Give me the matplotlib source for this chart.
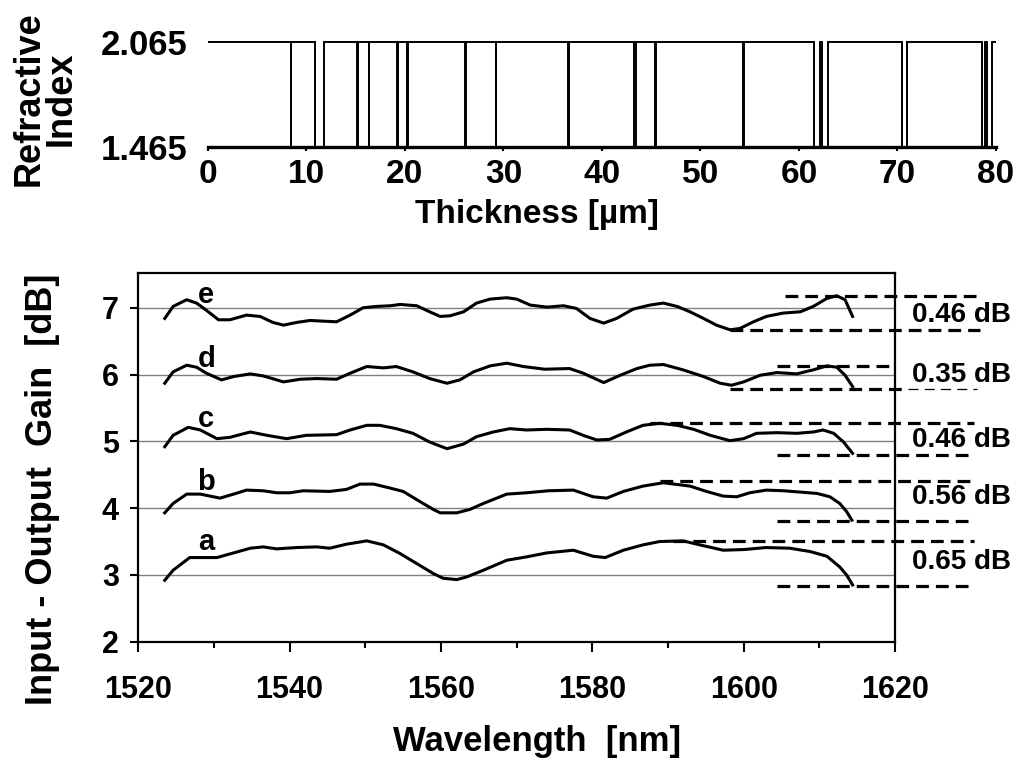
import matplotlib
matplotlib.use("Agg")
import matplotlib.pyplot as plt
from matplotlib.ticker import MultipleLocator

plt.rcParams['font.family'] = ['Liberation Sans', 'DejaVu Sans']
plt.rcParams['font.weight'] = 'bold'

# --- top panel: refractive index profile of the stack
n_high = 2.065
n_low = 1.465
layer_edges = [0, 8.38, 8.45, 10.86, 11.78, 15.08, 15.2, 16.33, 16.38, 19.24, 19.29,
               20.18, 20.3, 26.1, 26.22, 29.22, 29.27, 36.56, 36.61, 43.3, 43.42,
               45.42, 45.48, 54.33, 54.38, 61.55, 62.15, 62.3, 62.94, 70.5, 71.0,
               78.55, 78.9, 79.05, 79.56, 80]
layer_n = [n_high if i % 2 == 0 else n_low for i in range(len(layer_edges) - 1)]

# --- bottom panel: gain spectra (a..e)
wl_a = [1523.5, 1524.6, 1526.8, 1530.4, 1532.6, 1534.8, 1536.5, 1538.3, 1540.9, 1543.6,
        1545.3, 1547.5, 1550.2, 1552.4, 1554.6, 1556.8, 1559.0, 1560.3, 1562.1, 1563.4,
        1565.6, 1568.7, 1571.3, 1574.0, 1577.5, 1580.1, 1581.7, 1584.1, 1586.7, 1588.9,
        1592.0, 1594.2, 1597.3, 1600.0, 1603.0, 1606.1, 1608.8, 1611.0, 1612.7, 1613.6, 1614.4]
gain_a = [2.92, 3.07, 3.26, 3.26, 3.33, 3.40, 3.42, 3.39, 3.41, 3.42,
          3.40, 3.46, 3.51, 3.45, 3.32, 3.17, 3.02, 2.95, 2.93, 2.97,
          3.07, 3.22, 3.27, 3.33, 3.37, 3.28, 3.26, 3.37, 3.45, 3.50,
          3.51, 3.45, 3.37, 3.38, 3.41, 3.40, 3.35, 3.28, 3.12, 3.00, 2.85]

wl_b = [1523.5, 1524.6, 1526.4, 1528.2, 1530.8, 1532.6, 1534.3, 1536.5, 1538.3, 1540.0,
        1541.8, 1545.3, 1547.5, 1549.3, 1551.1, 1553.3, 1555.0, 1557.2, 1559.0, 1559.9,
        1562.1, 1563.8, 1565.6, 1568.7, 1571.3, 1574.2, 1577.5, 1580.1, 1581.9, 1584.1,
        1586.7, 1589.4, 1592.9, 1595.1, 1597.3, 1599.1, 1600.8, 1603.0, 1605.3, 1607.5,
        1609.7, 1611.4, 1612.7, 1613.6, 1614.3]
gain_b = [3.93, 4.07, 4.21, 4.21, 4.15, 4.21, 4.27, 4.26, 4.23, 4.23,
          4.26, 4.25, 4.28, 4.36, 4.36, 4.30, 4.25, 4.10, 3.98, 3.93,
          3.93, 3.98, 4.07, 4.21, 4.23, 4.26, 4.27, 4.17, 4.15, 4.25,
          4.33, 4.38, 4.33, 4.25, 4.18, 4.17, 4.23, 4.27, 4.26, 4.24,
          4.22, 4.17, 4.07, 3.95, 3.82]

wl_c = [1523.5, 1524.6, 1526.6, 1528.2, 1530.4, 1532.1, 1534.8, 1537.0, 1539.6, 1542.2,
        1546.2, 1548.0, 1550.2, 1551.9, 1554.1, 1556.3, 1558.5, 1560.8, 1563.0, 1564.7,
        1566.9, 1569.1, 1571.3, 1574.0, 1577.0, 1578.8, 1580.6, 1582.3, 1584.5, 1586.7,
        1588.9, 1591.2, 1593.4, 1595.6, 1598.2, 1600.0, 1601.7, 1604.4, 1607.0, 1609.2,
        1610.5, 1611.9, 1613.2, 1614.4]
gain_c = [4.92, 5.09, 5.21, 5.17, 5.04, 5.06, 5.14, 5.09, 5.04, 5.09,
          5.10, 5.17, 5.24, 5.24, 5.19, 5.12, 4.99, 4.89, 4.96, 5.07,
          5.14, 5.19, 5.17, 5.18, 5.17, 5.09, 5.02, 5.03, 5.14, 5.24,
          5.27, 5.24, 5.18, 5.09, 5.01, 5.04, 5.12, 5.13, 5.12, 5.14,
          5.17, 5.12, 4.99, 4.82]

wl_d = [1523.5, 1524.6, 1526.4, 1527.7, 1529.0, 1531.0, 1532.6, 1534.8, 1536.5, 1539.2,
        1541.4, 1543.6, 1546.2, 1548.0, 1550.2, 1552.4, 1554.1, 1556.3, 1558.5, 1560.8,
        1562.5, 1564.3, 1566.5, 1568.7, 1570.9, 1573.7, 1577.0, 1578.8, 1581.5, 1583.7,
        1585.9, 1587.6, 1589.4, 1592.0, 1594.7, 1596.9, 1598.4, 1600.0, 1602.2, 1604.4,
        1607.0, 1609.2, 1611.0, 1612.3, 1613.4, 1614.4]
gain_d = [5.87, 6.04, 6.14, 6.11, 6.02, 5.92, 5.97, 6.01, 5.98, 5.89,
          5.93, 5.94, 5.93, 6.02, 6.12, 6.10, 6.12, 6.04, 5.94, 5.87,
          5.92, 6.04, 6.13, 6.17, 6.12, 6.08, 6.09, 6.02, 5.88, 5.99,
          6.09, 6.14, 6.15, 6.07, 5.97, 5.87, 5.84, 5.89, 5.99, 6.03,
          6.01, 6.07, 6.13, 6.11, 5.99, 5.82]

wl_e = [1523.5, 1524.6, 1526.4, 1527.7, 1528.8, 1530.6, 1532.1, 1534.3, 1536.1, 1537.8,
        1539.2, 1540.9, 1542.7, 1544.4, 1546.2, 1548.0, 1549.7, 1551.5, 1553.3, 1554.6,
        1556.8, 1558.5, 1559.9, 1561.2, 1563.0, 1564.7, 1566.5, 1568.7, 1570.0, 1571.8,
        1574.0, 1576.2, 1577.9, 1579.7, 1581.5, 1583.2, 1585.4, 1587.6, 1589.4, 1591.2,
        1592.9, 1594.7, 1596.4, 1598.2, 1599.5, 1601.3, 1603.0, 1605.2, 1607.5, 1609.2,
        1611.0, 1612.3, 1613.4, 1614.4]
gain_e = [6.84, 7.02, 7.12, 7.07, 6.98, 6.82, 6.82, 6.89, 6.87, 6.78,
          6.74, 6.78, 6.81, 6.80, 6.79, 6.89, 7.00, 7.02, 7.03, 7.05,
          7.03, 6.94, 6.87, 6.88, 6.94, 7.07, 7.13, 7.15, 7.13, 7.04,
          7.01, 7.03, 6.99, 6.84, 6.77, 6.84, 6.98, 7.04, 7.07, 7.02,
          6.94, 6.84, 6.74, 6.67, 6.69, 6.79, 6.87, 6.92, 6.94, 7.02,
          7.14, 7.18, 7.12, 6.87]

curves = [("a", wl_a, gain_a), ("b", wl_b, gain_b), ("c", wl_c, gain_c),
          ("d", wl_d, gain_d), ("e", wl_e, gain_e)]
label_y = [3.37, 4.27, 5.22, 6.12, 7.07]

# ripple markers: upper/lower dashed levels, where they start/end, and the text
ripple_text = ["0.65 dB", "0.56 dB", "0.46 dB", "0.35 dB", "0.46 dB"]
ripple_text_y = [3.20, 4.17, 5.02, 6.00, 6.89]
hi_level = [3.51, 4.41, 5.28, 6.13, 7.175]
hi_start = [1590.7, 1588.9, 1587.6, 1604.4, 1605.5]
hi_end = [1630.5, 1630.5, 1630.5, 1619.7, 1631.6]
lo_level = [2.83, 3.81, 4.80, 5.78, 6.66]
lo_start = [1604.4, 1604.4, 1604.4, 1598.2, 1598.2]
lo_end = [1630.5, 1630.5, 1630.5, 1621.7, 1631.2]

fig = plt.figure(figsize=(10.19, 7.58), dpi=100)

# ---------------- top panel
ax1 = fig.add_axes([0.2041, 0.8065, 0.7733, 0.1385])
ax1.stairs(layer_n, layer_edges, baseline=None, color='black', lw=1.4, clip_on=False)
ax1.set_xlim(0, 80)
ax1.set_ylim(n_low, n_high)
for s in ['top', 'right', 'left']:
    ax1.spines[s].set_visible(False)
ax1.spines['bottom'].set_linewidth(2.4)
ax1.set_yticks([n_low, n_high])
ax1.set_yticklabels(['1.465', '2.065'])
ax1.set_xticks(range(0, 81, 10))
ax1.tick_params(axis='y', length=0, pad=15, labelsize=25)
ax1.tick_params(axis='x', length=3, width=1.5, pad=6, labelsize=24)
fig.text(537 / 1019, 1 - 215 / 758, 'Thickness [µm]', ha='center', va='center',
         fontsize=24, fontweight='bold')
fig.text(45 / 1019, 1 - 99 / 758, 'Refractive\nIndex', ha='center', va='center',
         rotation=90, fontsize=26, fontweight='bold', linespacing=0.9)

# ---------------- bottom panel
ax2 = fig.add_axes([0.1357, 0.1534, 0.7426, 0.4864])
for g in range(3, 8):
    ax2.axhline(g, color='#808080', lw=1.0, zorder=1)

for (name, wl, gain), ly in zip(curves, label_y):
    ax2.plot(wl, gain, color='black', lw=2.2, zorder=3)
    ax2.text(1529, ly, name, ha='center', va='baseline', fontsize=21,
             fontweight='bold', zorder=4)

dash_kw = dict(color='black', lw=2.3, dashes=(4, 2.2), clip_on=False, zorder=3)
for i in range(5):
    ax2.plot([hi_start[i], hi_end[i]], [hi_level[i], hi_level[i]], **dash_kw)
    ax2.plot([lo_start[i], lo_end[i]], [lo_level[i], lo_level[i]], **dash_kw)
    ax2.text(1622.2, ripple_text_y[i], ripple_text[i], ha='left', va='center',
             fontsize=20, fontweight='bold', clip_on=False)
# thin continuation of the lower "d" line
ax2.plot([1621.7, 1630.8], [lo_level[3], lo_level[3]], color='black', lw=0.9,
         dashes=(8, 5), clip_on=False)

ax2.set_xlim(1520, 1620)
ax2.set_ylim(2, 7.52)
ax2.xaxis.set_major_locator(MultipleLocator(20))
ax2.xaxis.set_minor_locator(MultipleLocator(10))
ax2.set_yticks(range(2, 8))
for s in ax2.spines.values():
    s.set_linewidth(1.6)
ax2.tick_params(axis='x', which='major', length=7, width=1.5, pad=17, labelsize=22)
ax2.tick_params(axis='x', which='minor', length=4.5, width=1.5)
ax2.tick_params(axis='y', length=6, width=1.5, pad=8, labelsize=22)

fig.text(537 / 1019, 1 - 741 / 758, 'Wavelength  [nm]', ha='center', va='center',
         fontsize=25, fontweight='bold')
fig.text(43 / 1019, 1 - 489 / 758, 'Input - Output  Gain  [dB]', ha='center',
         va='center', rotation=90, fontsize=26, fontweight='bold')

fig.savefig('out.png', dpi=100)
